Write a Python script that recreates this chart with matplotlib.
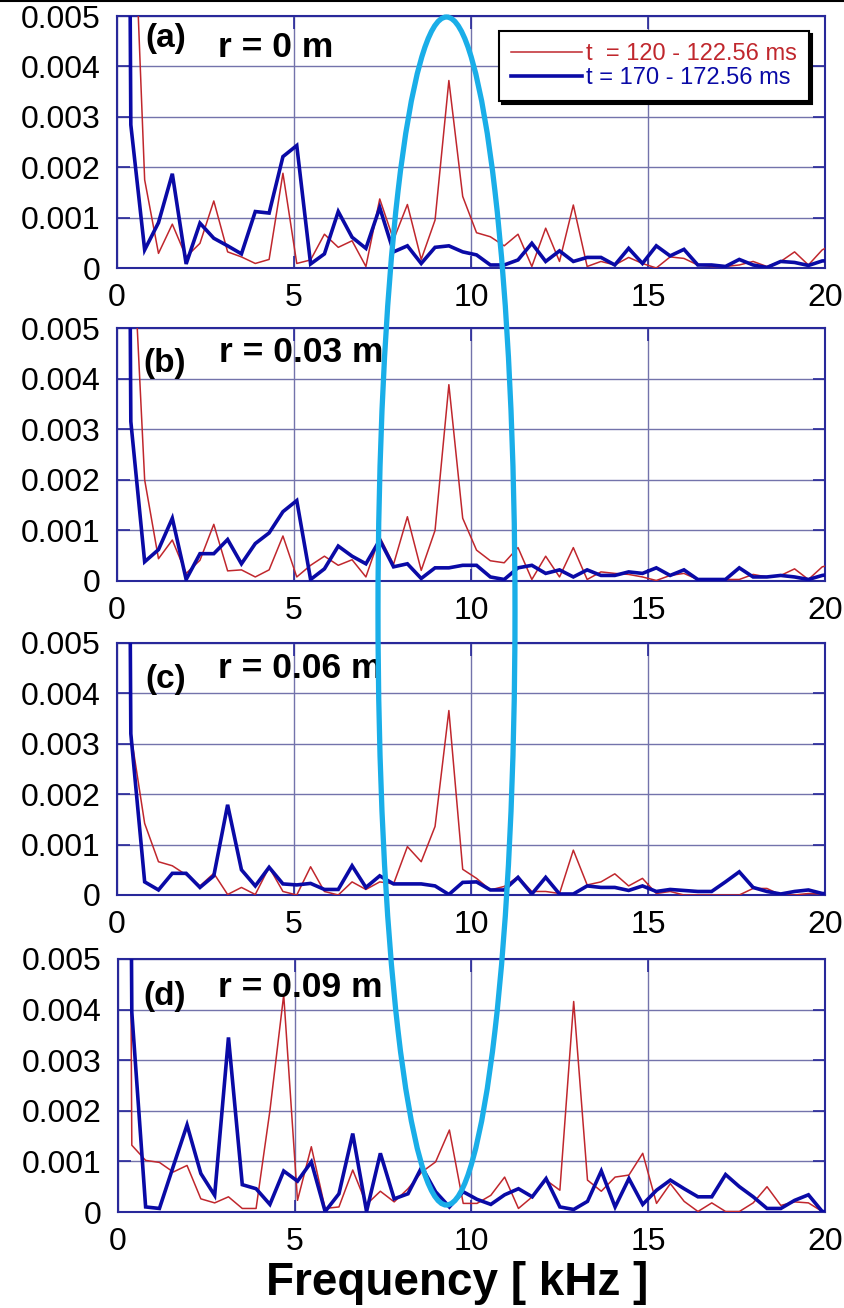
import numpy as np
import matplotlib
matplotlib.use("Agg")
import matplotlib.pyplot as plt
from matplotlib.patches import Ellipse
from matplotlib.lines import Line2D

W, H = 844, 1308

# FFT bins: resolution 1/2.56 ms = 0.390625 kHz (bin 0 = DC)
freq = np.arange(53) * 0.390625

# amplitudes in units of 1e-3
red_a = [50, 8.8, 1.75, 0.29, 0.87, 0.22, 0.49, 1.33, 0.32, 0.22, 0.09, 0.17, 1.88, 0.09, 0.16,
         0.67, 0.41, 0.54, 0.03, 1.37, 0.56, 1.26, 0.17, 0.95, 3.72, 1.42, 0.70, 0.62, 0.44, 0.67,
         0.03, 0.79, 0.13, 1.25, 0.03, 0.13, 0.06, 0.21, 0.09, 0.0, 0.22, 0.19, 0.06, 0.03, 0.03,
         0.06, 0.13, 0.03, 0.13, 0.32, 0.06, 0.36, 0.5]
blue_a = [50, 2.84, 0.36, 0.90, 1.87, 0.08, 0.89, 0.59, 0.44, 0.28, 1.12, 1.09, 2.21, 2.43, 0.08,
          0.28, 1.12, 0.61, 0.39, 1.20, 0.32, 0.44, 0.09, 0.41, 0.44, 0.32, 0.26, 0.06, 0.06, 0.16,
          0.49, 0.13, 0.34, 0.13, 0.21, 0.21, 0.06, 0.39, 0.09, 0.44, 0.24, 0.37, 0.06, 0.06, 0.03,
          0.17, 0.06, 0.01, 0.13, 0.11, 0.05, 0.14, 0.15]
red_b = [50, 7.6, 2.0, 0.44, 0.81, 0.15, 0.41, 1.12, 0.20, 0.22, 0.08, 0.22, 0.89, 0.08, 0.31,
         0.49, 0.31, 0.42, 0.08, 0.87, 0.33, 1.27, 0.21, 1.0, 3.88, 1.24, 0.61, 0.40, 0.36, 0.66,
         0.03, 0.49, 0.08, 0.66, 0.03, 0.18, 0.15, 0.13, 0.08, 0.01, 0.11, 0.15, 0.03, 0.03, 0.03,
         0.03, 0.13, 0.08, 0.11, 0.24, 0.03, 0.28, 0.35]
blue_b = [50, 3.15, 0.38, 0.62, 1.24, 0.03, 0.54, 0.54, 0.82, 0.34, 0.74, 0.95, 1.37, 1.59, 0.03,
          0.24, 0.69, 0.49, 0.34, 0.81, 0.28, 0.34, 0.05, 0.26, 0.26, 0.31, 0.31, 0.08, 0.03, 0.26,
          0.31, 0.15, 0.22, 0.08, 0.22, 0.11, 0.11, 0.18, 0.15, 0.26, 0.11, 0.22, 0.03, 0.03, 0.03,
          0.26, 0.08, 0.08, 0.11, 0.08, 0.03, 0.11, 0.15]
red_c = [50, 3.2, 1.42, 0.66, 0.58, 0.40, 0.18, 0.43, 0.01, 0.15, 0.01, 0.55, 0.07, 0.0, 0.56,
         0.07, 0.0, 0.26, 0.11, 0.26, 0.22, 0.96, 0.66, 1.36, 3.66, 0.51, 0.33, 0.10, 0.17, 0.36,
         0.07, 0.07, 0.03, 0.89, 0.20, 0.26, 0.42, 0.18, 0.33, 0.03, 0.07, 0.0, 0.0, 0.0, 0.0,
         0.0, 0.13, 0.13, 0.0, 0.0, 0.03, 0.02, 0.02]
blue_c = [50, 3.2, 0.26, 0.10, 0.43, 0.43, 0.15, 0.38, 1.79, 0.50, 0.18, 0.55, 0.22, 0.20, 0.23,
          0.11, 0.11, 0.58, 0.15, 0.38, 0.22, 0.22, 0.22, 0.18, 0.01, 0.25, 0.26, 0.10, 0.10, 0.35,
          0.02, 0.35, 0.02, 0.02, 0.18, 0.15, 0.15, 0.09, 0.18, 0.07, 0.11, 0.09, 0.07, 0.07, 0.26,
          0.46, 0.15, 0.07, 0.02, 0.07, 0.10, 0.03, 0.02]
red_d = [50, 1.32, 1.02, 0.98, 0.79, 0.92, 0.26, 0.18, 0.30, 0.07, 0.07, 2.0, 4.29, 0.23, 1.29,
         0.07, 0.10, 0.83, 0.15, 0.41, 0.20, 0.46, 0.79, 0.99, 1.62, 0.17, 0.17, 0.33, 0.69, 0.07,
         0.30, 0.63, 0.43, 4.16, 0.63, 0.41, 0.69, 0.73, 1.16, 0.17, 0.56, 0.21, 0.01, 0.18, 0.01,
         0.01, 0.18, 0.50, 0.13, 0.20, 0.18, 0.01, 0.01]
blue_d = [50, 3.95, 0.10, 0.07, 0.90, 1.72, 0.76, 0.33, 3.45, 0.54, 0.46, 0.15, 0.81, 0.61, 0.99,
          0.01, 0.36, 1.55, 0.01, 1.16, 0.26, 0.36, 0.89, 0.40, 0.10, 0.40, 0.25, 0.15, 0.34, 0.46,
          0.30, 0.66, 0.10, 0.05, 0.21, 0.81, 0.10, 0.66, 0.15, 0.43, 0.63, 0.46, 0.30, 0.30, 0.74,
          0.50, 0.30, 0.07, 0.07, 0.23, 0.34, 0.01, 0.0]

panel_tags = ["(a)", "(b)", "(c)", "(d)"]
radii = ["r = 0 m", "r = 0.03 m", "r = 0.06 m", "r = 0.09 m"]
red_series = [red_a, red_b, red_c, red_d]
blue_series = [blue_a, blue_b, blue_c, blue_d]
legend_labels = ["t  = 120 - 122.56 ms", "t = 170 - 172.56 ms"]
xticks = [0, 5, 10, 15, 20]
xtick_labels = ["0", "5", "10", "15", "20"]
yticks = [0, 0.001, 0.002, 0.003, 0.004, 0.005]
ytick_labels = ["0", "0.001", "0.002", "0.003", "0.004", "0.005"]
xlabel = "Frequency [ kHz ]"

RED = "#c0272d"
BLUE = "#0a0aa6"
SPINE = "#28289a"
GRID = "#7373ab"

fig = plt.figure(figsize=(W / 100, H / 100), dpi=100)
fig.patch.set_facecolor("white")

# pixel boxes (left, top, right, bottom)
boxes = [(117, 16, 825, 268), (117, 328, 825, 581), (117, 643, 825, 895), (118, 959, 825, 1212)]
# label positions (px): tag x, tag baseline, radius x, radius baseline
label_pos = [(145, 47, 218, 57), (143, 372, 219, 362), (145, 688, 218, 678), (143, 1005, 218, 997)]

for i in range(4):
    l, t, r, b = boxes[i]
    ax = fig.add_axes([l / W, 1 - b / H, (r - l) / W, (b - t) / H])
    ax.plot(freq, np.array(red_series[i]) * 1e-3, color=RED, lw=1.1, zorder=3,
            label=legend_labels[0])
    ax.plot(freq, np.array(blue_series[i]) * 1e-3, color=BLUE, lw=2.6, zorder=4,
            solid_joinstyle="miter", label=legend_labels[1])
    ax.set_xlim(0, 20)
    ax.set_ylim(0, 0.005)
    ax.set_xticks(xticks, labels=xtick_labels)
    ax.set_yticks(yticks, labels=ytick_labels)
    ax.grid(True, color=GRID, lw=1.0, zorder=0)
    ax.set_axisbelow(True)
    ax.tick_params(direction="in", length=9, width=1.2, color=SPINE, top=True, right=True,
                   labelsize=23, labelcolor="black")
    ax.tick_params(axis="x", pad=11)
    ax.tick_params(axis="y", pad=12)
    for lab in ax.get_xticklabels() + ax.get_yticklabels():
        lab.set_fontfamily("Liberation Sans")
    for sp in ax.spines.values():
        sp.set_color(SPINE)
        sp.set_linewidth(1.5)
    tx, tb, rx, rb = label_pos[i]
    fig.text(tx / W, 1 - tb / H, panel_tags[i], fontsize=24, fontweight="bold",
             family="Liberation Sans", ha="left", va="baseline", zorder=6)
    fig.text(rx / W, 1 - rb / H, radii[i], fontsize=25.5, fontweight="bold",
             family="Liberation Sans", ha="left", va="baseline", zorder=6)
    if i == 0:
        leg = ax.legend(loc="upper right", bbox_to_anchor=((809 - l) / (r - l), (b - 31) / (b - t)),
                        borderaxespad=0, fancybox=False, framealpha=1, edgecolor="black",
                        shadow={"color": "black", "alpha": 1},
                        prop={"family": "Liberation Sans", "size": 17},
                        handlelength=3.0, handletextpad=0.2, labelspacing=0.1,
                        borderpad=0.5, labelcolor="linecolor")
        leg.get_frame().set_linewidth(1.5)
        leg.set_zorder(10)

fig.text(457 / W, 1 - 1295 / H, xlabel, fontsize=33, fontweight="bold",
         family="Liberation Sans", ha="center", va="baseline")

fig.add_artist(Ellipse((446.5 / W, 1 - 611 / H), 137 / W, 1188 / H, transform=fig.transFigure,
                       fill=False, ec="#1aaee8", lw=3.8, zorder=20))
fig.add_artist(Line2D([0, 1], [1 - 1 / H, 1 - 1 / H], transform=fig.transFigure,
                      color="black", lw=1.5))

fig.savefig("out.png", dpi=100, facecolor="white")
